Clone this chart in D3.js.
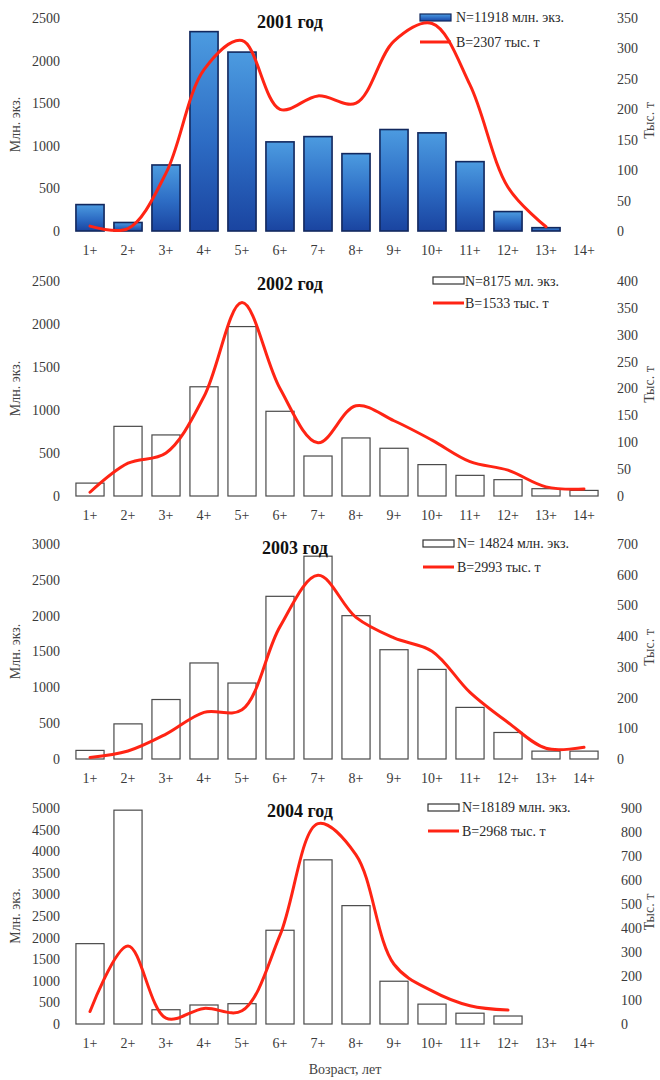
<!DOCTYPE html>
<html>
<head>
<meta charset="utf-8">
<script src="https://cdn.jsdelivr.net/npm/d3@7"></script>
<style>
  html, body { margin: 0; padding: 0; background: #fff; }
  svg { display: block; }
  text { font-family: "Liberation Serif", "Times New Roman", serif; }
</style>
</head>
<body>
<svg id="chart" width="660" height="1080"></svg>
<script>
// ---------- DATA ----------
const ages = ["1+","2+","3+","4+","5+","6+","7+","8+","9+","10+","11+","12+","13+","14+"];
const titles = ["2001 год","2002 год","2003 год","2004 год"];

const n2001 = [310, 100, 775, 2340, 2100, 1046, 1108, 908, 1191, 1152, 814, 228, 39, null];
const b2001 = [8, 4, 95, 265, 313, 200, 222, 210, 312, 341, 240, 72, 7, null];

const n2002 = [150, 810, 710, 1270, 1970, 985, 465, 675, 555, 365, 240, 190, 85, 65];
const b2002 = [7, 61, 80, 185, 360, 200, 99, 168, 140, 104, 64, 48, 17, 13];

const n2003 = [120, 490, 830, 1340, 1060, 2270, 2830, 2000, 1525, 1250, 720, 370, 110, 110];
const b2003 = [5, 26, 81, 152, 160, 431, 598, 461, 394, 351, 217, 119, 35, 38];

const n2004 = [1860, 4950, 330, 440, 470, 2170, 3800, 2740, 990, 460, 250, 185, null, null];
const b2004 = [52, 325, 24, 65, 55, 370, 835, 705, 249, 138, 76, 58, null, null];

const leftTicks = [
  [0, 500, 1000, 1500, 2000, 2500],
  [0, 500, 1000, 1500, 2000, 2500],
  [0, 500, 1000, 1500, 2000, 2500, 3000],
  [0, 500, 1000, 1500, 2000, 2500, 3000, 3500, 4000, 4500, 5000]
];
const rightTicks = [
  [0, 50, 100, 150, 200, 250, 300, 350],
  [0, 50, 100, 150, 200, 250, 300, 350, 400],
  [0, 100, 200, 300, 400, 500, 600, 700],
  [0, 100, 200, 300, 400, 500, 600, 700, 800, 900]
];
const legendN = ["N=11918 млн. экз.", "N=8175 мл. экз.", "N= 14824 млн. экз.", "N=18189 млн. экз."];
const legendB = ["B=2307 тыс. т", "B=1533 тыс. т", "B=2993 тыс. т", "B=2968 тыс. т"];
const leftTitle = "Млн. экз.";
const rightTitle = "Тыс. т";
const xTitle = "Возраст, лет";

// ---------- LAYOUT ----------
const nSeries = [n2001, n2002, n2003, n2004];
const bSeries = [b2001, b2002, b2003, b2004];
const layout = [
  { base: 231, top: 18,  titleX: 257, titleY: 28,  leg: { rx: 420, ry: 14, tx: 456, t1: 22,  ly: 42,  t2: 47 },  rAxisX: 614 },
  { base: 496, top: 281, titleX: 257, titleY: 290, leg: { rx: 433, ry: 277, tx: 465, t1: 286, ly: 303, t2: 308 }, rAxisX: 614 },
  { base: 759, top: 544, titleX: 262, titleY: 554, leg: { rx: 423, ry: 540, tx: 457, t1: 548, ly: 567, t2: 572 }, rAxisX: 614 },
  { base: 1024, top: 808, titleX: 267, titleY: 817, leg: { rx: 428, ry: 804, tx: 462, t1: 812, ly: 831, t2: 836 }, rAxisX: 618 }
];

const svg = d3.select("#chart");
const defs = svg.append("defs");
const grad = defs.append("linearGradient").attr("id", "blueGrad")
  .attr("x1", 0).attr("y1", 0).attr("x2", 0).attr("y2", 1);
grad.append("stop").attr("offset", "0%").attr("stop-color", "#4c9be0");
grad.append("stop").attr("offset", "55%").attr("stop-color", "#2d6cc4");
grad.append("stop").attr("offset", "100%").attr("stop-color", "#1a44a0");

const x = d3.scaleBand().domain(ages).range([71, 603]).paddingInner(0.26).paddingOuter(0.13);
const red = "#ff2414";
const textCol = "#3a3a3a";

layout.forEach((L, i) => {
  const nVals = nSeries[i], bVals = bSeries[i];
  const lt = leftTicks[i], rt = rightTicks[i];
  const yL = d3.scaleLinear().domain([0, lt[lt.length - 1]]).range([L.base, L.top]);
  const yR = d3.scaleLinear().domain([0, rt[rt.length - 1]]).range([L.base, L.top]);
  const g = svg.append("g");
  const blue = i === 0;

  // bars
  const barData = ages.map((a, k) => ({ a, v: nVals[k] })).filter(d => d.v != null);
  g.selectAll("rect.bar").data(barData).join("rect")
    .attr("class", "bar")
    .attr("x", d => x(d.a))
    .attr("y", d => yL(d.v))
    .attr("width", x.bandwidth())
    .attr("height", d => L.base - yL(d.v))
    .attr("fill", blue ? "url(#blueGrad)" : "#fff")
    .attr("stroke", blue ? "#12285e" : "#4a4a4a")
    .attr("stroke-width", blue ? 1.6 : 1.2);

  // left axis
  const ax = g.append("g").attr("transform", `translate(63,0)`)
    .call(d3.axisLeft(yL).tickValues(lt).tickSize(0).tickPadding(3).tickFormat(d3.format("d")));
  ax.select(".domain").remove();
  ax.selectAll("text").attr("font-family", "Liberation Serif, serif").attr("font-size", 14).attr("fill", textCol);

  // right axis
  const ar = g.append("g").attr("transform", `translate(${L.rAxisX},0)`)
    .call(d3.axisRight(yR).tickValues(rt).tickSize(0).tickPadding(3).tickFormat(d3.format("d")));
  ar.select(".domain").remove();
  ar.selectAll("text").attr("font-family", "Liberation Serif, serif").attr("font-size", 14).attr("fill", textCol);

  // x axis labels
  const axb = g.append("g").attr("transform", `translate(0,${L.base + 14})`)
    .call(d3.axisBottom(x).tickSize(0).tickPadding(0));
  axb.select(".domain").remove();
  axb.selectAll("text").attr("font-family", "Liberation Serif, serif").attr("font-size", 14).attr("fill", textCol);

  // biomass line
  const lineData = ages.map((a, k) => ({ a, v: bVals[k] })).filter(d => d.v != null);
  const line = d3.line()
    .x(d => x(d.a) + x.bandwidth() / 2)
    .y(d => yR(d.v))
    .curve(d3.curveCatmullRom.alpha(0.5));

  // legend
  const lg = L.leg;
  g.append("rect").attr("x", lg.rx).attr("y", lg.ry).attr("width", 31).attr("height", 7)
    .attr("fill", blue ? "url(#blueGrad)" : "#fff")
    .attr("stroke", blue ? "#12285e" : "#333").attr("stroke-width", 1.2);
  g.append("text").attr("x", lg.tx).attr("y", lg.t1).attr("font-size", 14).attr("fill", "#2a2a2a").text(legendN[i]);
  g.append("line").attr("x1", lg.rx).attr("x2", lg.rx + 31).attr("y1", lg.ly).attr("y2", lg.ly)
    .attr("stroke", red).attr("stroke-width", 3);
  g.append("text").attr("x", lg.tx).attr("y", lg.t2).attr("font-size", 14).attr("fill", "#2a2a2a").text(legendB[i]);

  g.append("path").datum(lineData).attr("d", line)
    .attr("fill", "none").attr("stroke", red).attr("stroke-width", 3).attr("stroke-linejoin", "round").attr("stroke-linecap", "round");

  // title
  g.append("text").attr("x", L.titleX).attr("y", L.titleY)
    .attr("font-size", 18).attr("font-weight", "bold").attr("fill", "#111").text(titles[i]);

  // axis titles
  const midY = (L.base + L.top) / 2;
  g.append("text").attr("transform", `translate(20,${midY}) rotate(-90)`)
    .attr("text-anchor", "middle").attr("font-size", 14).attr("fill", "#444").text(leftTitle);
  g.append("text").attr("transform", `translate(654,${midY - 4}) rotate(-90)`)
    .attr("text-anchor", "middle").attr("font-size", 14).attr("fill", "#444").text(rightTitle);
});

svg.append("text").attr("x", 345).attr("y", 1074).attr("text-anchor", "middle")
  .attr("font-size", 14).attr("fill", "#444").text(xTitle);
</script>
</body>
</html>
